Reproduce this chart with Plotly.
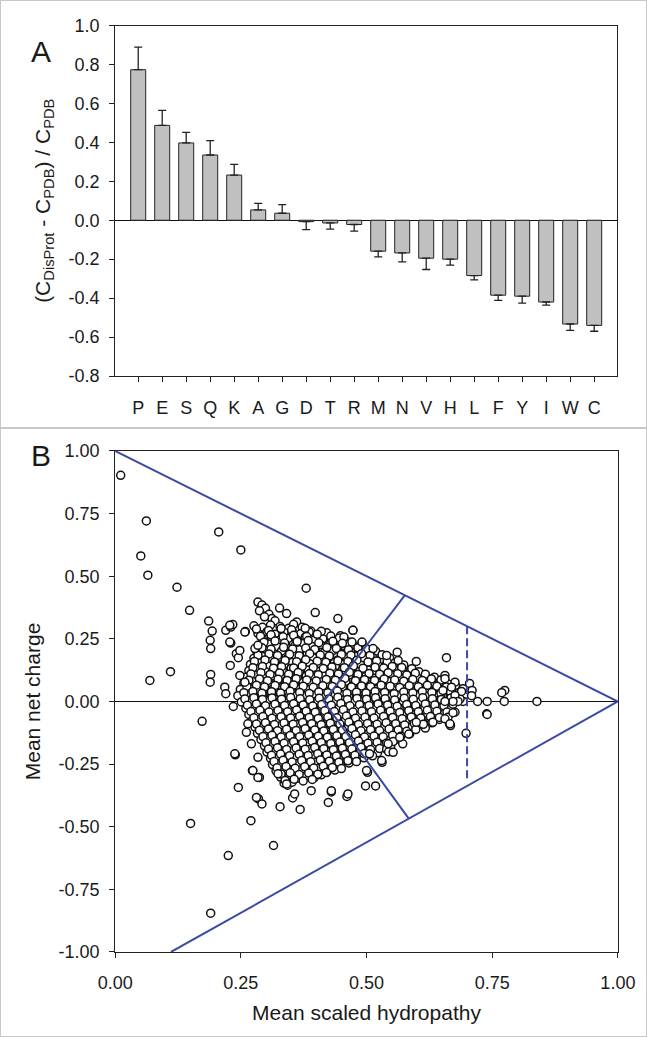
import plotly.graph_objects as go

FONT = "Liberation Sans, Arial, sans-serif"
INK = "#1a1a1a"
BLUE = "#3b4aa3"

# panel A: relative composition difference per residue
residues = ["P", "E", "S", "Q", "K", "A", "G", "D", "T", "R",
            "M", "N", "V", "H", "L", "F", "Y", "I", "W", "C"]
rel_diff = [0.773, 0.487, 0.397, 0.335, 0.232, 0.053, 0.036, -0.007, -0.014, -0.022,
            -0.159, -0.168, -0.195, -0.200, -0.284, -0.385, -0.390, -0.420, -0.533, -0.540]
rel_err = [0.116, 0.077, 0.054, 0.074, 0.055, 0.034, 0.044, 0.041, 0.032, 0.034,
           0.029, 0.046, 0.058, 0.031, 0.022, 0.027, 0.036, 0.016, 0.033, 0.030]
a_ticks = [-0.8, -0.6, -0.4, -0.2, 0.0, 0.2, 0.4, 0.6, 0.8, 1.0]

# panel B: charge-hydropathy points (dense core read row by row)
core_hydropathy = [
    0.284, 0.292, 0.299, 0.287, 0.306, 0.327, 0.341, 0.361, 0.312, 0.297, 0.318,
    0.276, 0.293, 0.309, 0.328, 0.345, 0.372, 0.389, 0.355,
    0.284, 0.302, 0.318, 0.336, 0.352, 0.369, 0.386, 0.404, 0.421, 0.448, 0.473,
    0.293, 0.311, 0.326, 0.344, 0.361, 0.378, 0.396, 0.413, 0.43, 0.446, 0.462,
    0.289, 0.305, 0.322, 0.339, 0.357, 0.374, 0.391, 0.408, 0.425, 0.443, 0.459, 0.476, 0.491,
    0.282, 0.299, 0.314, 0.331, 0.348, 0.366, 0.382, 0.399, 0.417, 0.434, 0.451, 0.468, 0.485, 0.502, 0.518,
    0.276, 0.293, 0.309, 0.325, 0.342, 0.359, 0.376, 0.393, 0.41, 0.427, 0.444, 0.461, 0.478, 0.495, 0.512, 0.529, 0.546,
    0.269, 0.286, 0.302, 0.319, 0.336, 0.353, 0.37, 0.387, 0.404, 0.421, 0.438, 0.455, 0.472, 0.489, 0.506, 0.523, 0.54, 0.557, 0.574,
    0.266, 0.283, 0.299, 0.316, 0.333, 0.35, 0.367, 0.384, 0.401, 0.418, 0.435, 0.452, 0.469, 0.486, 0.503, 0.52, 0.537, 0.554, 0.571, 0.588, 0.604,
    0.262, 0.279, 0.295, 0.312, 0.329, 0.346, 0.363, 0.38, 0.397, 0.414, 0.431, 0.448, 0.465, 0.482, 0.499, 0.516, 0.533, 0.55, 0.567, 0.584, 0.601, 0.618, 0.635,
    0.256, 0.273, 0.289, 0.306, 0.323, 0.34, 0.357, 0.374, 0.391, 0.408, 0.425, 0.442, 0.459, 0.476, 0.493, 0.51, 0.527, 0.544, 0.561, 0.578, 0.595, 0.612, 0.629, 0.646, 0.662,
    0.249, 0.266, 0.282, 0.299, 0.316, 0.333, 0.35, 0.367, 0.384, 0.401, 0.418, 0.435, 0.452, 0.469, 0.486, 0.503, 0.52, 0.537, 0.554, 0.571, 0.588, 0.605, 0.622, 0.639, 0.656, 0.673, 0.688,
    0.244, 0.261, 0.277, 0.294, 0.311, 0.328, 0.345, 0.362, 0.379, 0.396, 0.413, 0.43, 0.447, 0.464, 0.481, 0.498, 0.515, 0.532, 0.549, 0.566, 0.583, 0.6, 0.617, 0.634, 0.651, 0.668, 0.685, 0.698,
    0.251, 0.268, 0.284, 0.301, 0.318, 0.335, 0.352, 0.369, 0.386, 0.403, 0.42, 0.437, 0.454, 0.471, 0.488, 0.505, 0.522, 0.539, 0.556, 0.573, 0.59, 0.607, 0.624, 0.641, 0.658, 0.675, 0.692,
    0.26, 0.277, 0.293, 0.31, 0.327, 0.344, 0.361, 0.378, 0.395, 0.412, 0.429, 0.446, 0.463, 0.48, 0.497, 0.514, 0.531, 0.548, 0.565, 0.582, 0.599, 0.616, 0.633, 0.65, 0.667,
    0.266, 0.283, 0.299, 0.316, 0.333, 0.35, 0.367, 0.384, 0.401, 0.418, 0.435, 0.452, 0.469, 0.486, 0.503, 0.52, 0.537, 0.554, 0.571, 0.588, 0.605, 0.622, 0.639, 0.655,
    0.272, 0.289, 0.305, 0.322, 0.339, 0.356, 0.373, 0.39, 0.407, 0.424, 0.441, 0.458, 0.475, 0.492, 0.509, 0.526, 0.543, 0.56, 0.577, 0.594, 0.611, 0.628, 0.645,
    0.278, 0.295, 0.311, 0.328, 0.345, 0.362, 0.379, 0.396, 0.413, 0.43, 0.447, 0.464, 0.481, 0.498, 0.515, 0.532, 0.549, 0.566, 0.583, 0.6, 0.617,
    0.283, 0.3, 0.316, 0.333, 0.35, 0.367, 0.384, 0.401, 0.418, 0.435, 0.452, 0.469, 0.486, 0.503, 0.52, 0.537, 0.554, 0.571, 0.586,
    0.29, 0.307, 0.323, 0.34, 0.357, 0.374, 0.391, 0.408, 0.425, 0.442, 0.459, 0.476, 0.493, 0.51, 0.527, 0.544, 0.559,
    0.297, 0.314, 0.33, 0.347, 0.364, 0.381, 0.398, 0.415, 0.432, 0.449, 0.466, 0.483, 0.5, 0.517, 0.534, 0.548,
    0.302, 0.319, 0.335, 0.352, 0.369, 0.386, 0.403, 0.42, 0.437, 0.454, 0.471, 0.488, 0.505, 0.522,
    0.309, 0.326, 0.342, 0.359, 0.376, 0.393, 0.41, 0.427, 0.444, 0.461, 0.478, 0.495,
    0.313, 0.33, 0.346, 0.363, 0.38, 0.397, 0.414, 0.431, 0.448, 0.465,
    0.32, 0.337, 0.353, 0.37, 0.387, 0.404, 0.421, 0.437,
    0.329, 0.346, 0.362, 0.379, 0.396, 0.41,
    0.336, 0.343, 0.352,
]
core_charge = [
    0.397, 0.385, 0.372, 0.362, 0.348, 0.373, 0.351, 0.317, 0.331, 0.338, 0.322,
    0.302, 0.296, 0.305, 0.299, 0.292, 0.296, 0.281, 0.308,
    0.272, 0.279, 0.268, 0.276, 0.282, 0.27, 0.277, 0.266, 0.274, 0.262, 0.284,
    0.248, 0.255, 0.243, 0.251, 0.246, 0.257, 0.244, 0.25, 0.241, 0.253, 0.238,
    0.222, 0.229, 0.218, 0.226, 0.221, 0.231, 0.219, 0.227, 0.223, 0.216, 0.228, 0.219, 0.233,
    0.198, 0.205, 0.194, 0.202, 0.196, 0.207, 0.193, 0.201, 0.197, 0.204, 0.192, 0.2, 0.206, 0.195, 0.201,
    0.173, 0.18, 0.169, 0.177, 0.171, 0.182, 0.168, 0.176, 0.172, 0.179, 0.167, 0.175, 0.181, 0.17, 0.176, 0.168, 0.174,
    0.148, 0.155, 0.144, 0.152, 0.146, 0.157, 0.143, 0.151, 0.147, 0.154, 0.142, 0.15, 0.156, 0.145, 0.151, 0.143, 0.149, 0.155, 0.146,
    0.123, 0.13, 0.119, 0.127, 0.121, 0.132, 0.118, 0.126, 0.122, 0.129, 0.117, 0.125, 0.131, 0.12, 0.126, 0.118, 0.124, 0.13, 0.121, 0.127, 0.119,
    0.098, 0.105, 0.094, 0.102, 0.096, 0.107, 0.093, 0.101, 0.097, 0.104, 0.092, 0.1, 0.106, 0.095, 0.101, 0.093, 0.099, 0.105, 0.096, 0.102, 0.094, 0.1, 0.097,
    0.073, 0.08, 0.069, 0.077, 0.071, 0.082, 0.068, 0.076, 0.072, 0.079, 0.067, 0.075, 0.081, 0.07, 0.076, 0.068, 0.074, 0.08, 0.071, 0.077, 0.069, 0.075, 0.072, 0.078, 0.07,
    0.048, 0.055, 0.044, 0.052, 0.046, 0.057, 0.043, 0.051, 0.047, 0.054, 0.042, 0.05, 0.056, 0.045, 0.051, 0.043, 0.049, 0.055, 0.046, 0.052, 0.044, 0.05, 0.047, 0.053, 0.045, 0.051, 0.048,
    0.023, 0.03, 0.019, 0.027, 0.021, 0.032, 0.018, 0.026, 0.022, 0.029, 0.017, 0.025, 0.031, 0.02, 0.026, 0.018, 0.024, 0.03, 0.021, 0.027, 0.019, 0.025, 0.022, 0.028, 0.02, 0.026, 0.023, 0.029,
    -0.002, 0.005, -0.006, 0.002, -0.004, 0.007, -0.007, 0.001, -0.003, 0.004, -0.008, 0.0, 0.006, -0.005, 0.001, -0.007, -0.001, 0.005, -0.004, 0.002, -0.006, 0.0, -0.003, 0.003, -0.005, 0.001, 0.0,
    -0.027, -0.02, -0.031, -0.023, -0.029, -0.018, -0.032, -0.024, -0.028, -0.021, -0.033, -0.025, -0.019, -0.03, -0.024, -0.032, -0.026, -0.02, -0.029, -0.023, -0.031, -0.025, -0.028, -0.022, -0.03,
    -0.052, -0.045, -0.056, -0.048, -0.054, -0.043, -0.057, -0.049, -0.053, -0.046, -0.058, -0.05, -0.044, -0.055, -0.049, -0.057, -0.051, -0.045, -0.054, -0.048, -0.056, -0.05, -0.053, -0.047,
    -0.077, -0.07, -0.081, -0.073, -0.079, -0.068, -0.082, -0.074, -0.078, -0.071, -0.083, -0.075, -0.069, -0.08, -0.074, -0.082, -0.076, -0.07, -0.079, -0.073, -0.081, -0.075, -0.072,
    -0.102, -0.095, -0.106, -0.098, -0.104, -0.093, -0.107, -0.099, -0.103, -0.096, -0.108, -0.1, -0.094, -0.105, -0.099, -0.107, -0.101, -0.095, -0.104, -0.098, -0.106,
    -0.127, -0.12, -0.131, -0.123, -0.129, -0.118, -0.132, -0.124, -0.128, -0.121, -0.133, -0.125, -0.119, -0.13, -0.124, -0.132, -0.126, -0.12, -0.129,
    -0.152, -0.145, -0.156, -0.148, -0.154, -0.143, -0.157, -0.149, -0.153, -0.146, -0.158, -0.15, -0.144, -0.155, -0.149, -0.157, -0.151,
    -0.177, -0.17, -0.181, -0.173, -0.179, -0.168, -0.182, -0.174, -0.178, -0.171, -0.183, -0.175, -0.169, -0.18, -0.174, -0.182,
    -0.202, -0.195, -0.206, -0.198, -0.204, -0.193, -0.207, -0.199, -0.203, -0.196, -0.208, -0.2, -0.194, -0.205,
    -0.227, -0.22, -0.231, -0.223, -0.229, -0.218, -0.232, -0.224, -0.228, -0.221, -0.233, -0.225,
    -0.252, -0.245, -0.256, -0.248, -0.254, -0.243, -0.257, -0.249, -0.253, -0.246,
    -0.277, -0.27, -0.281, -0.273, -0.279, -0.268, -0.282, -0.274,
    -0.302, -0.295, -0.306, -0.298, -0.304, -0.293,
    -0.326, -0.334, -0.322,
]

# second, interleaved pass over the core (overlapping circles)
fill_hydropathy = [
    0.281, 0.305, 0.33, 0.351, 0.378, 0.41,
    0.289, 0.31, 0.334, 0.355, 0.381, 0.402, 0.429, 0.455,
    0.296, 0.318, 0.337, 0.362, 0.384, 0.405, 0.433, 0.452, 0.471,
    0.292, 0.31, 0.335, 0.353, 0.379, 0.397, 0.421, 0.44, 0.464, 0.483, 0.5,
    0.284, 0.306, 0.323, 0.347, 0.366, 0.387, 0.408, 0.426, 0.45, 0.469, 0.49, 0.507, 0.531,
    0.277, 0.298, 0.317, 0.338, 0.361, 0.379, 0.402, 0.419, 0.443, 0.463, 0.481, 0.503, 0.52, 0.541, 0.563,
    0.274, 0.293, 0.315, 0.331, 0.355, 0.372, 0.394, 0.414, 0.431, 0.456, 0.474, 0.493, 0.517, 0.534, 0.551, 0.57, 0.59,
    0.27, 0.29, 0.308, 0.327, 0.345, 0.364, 0.386, 0.404, 0.427, 0.444, 0.466, 0.483, 0.505, 0.526, 0.543, 0.562, 0.58, 0.597, 0.617,
    0.266, 0.287, 0.303, 0.324, 0.342, 0.36, 0.381, 0.4, 0.42, 0.438, 0.457, 0.478, 0.496, 0.516, 0.535, 0.556, 0.574, 0.592, 0.611, 0.629, 0.648,
    0.262, 0.281, 0.297, 0.318, 0.337, 0.355, 0.374, 0.394, 0.413, 0.432, 0.45, 0.47, 0.49, 0.508, 0.529, 0.547, 0.566, 0.585, 0.603, 0.621, 0.64, 0.659, 0.677,
    0.256, 0.274, 0.292, 0.311, 0.329, 0.348, 0.367, 0.386, 0.405, 0.423, 0.442, 0.461, 0.48, 0.499, 0.517, 0.536, 0.555, 0.574, 0.592, 0.611, 0.63, 0.648, 0.667, 0.684,
    0.258, 0.276, 0.293, 0.312, 0.331, 0.349, 0.368, 0.387, 0.406, 0.425, 0.443, 0.462, 0.481, 0.5, 0.518, 0.537, 0.556, 0.575, 0.593, 0.612, 0.631, 0.649, 0.668, 0.686,
    0.263, 0.281, 0.299, 0.318, 0.337, 0.355, 0.374, 0.393, 0.411, 0.43, 0.449, 0.467, 0.486, 0.505, 0.523, 0.542, 0.561, 0.58, 0.598, 0.617, 0.636, 0.654, 0.672,
    0.27, 0.288, 0.306, 0.324, 0.343, 0.361, 0.38, 0.398, 0.417, 0.436, 0.454, 0.473, 0.491, 0.51, 0.528, 0.547, 0.566, 0.584, 0.603, 0.621, 0.64, 0.66,
    0.276, 0.294, 0.312, 0.33, 0.349, 0.367, 0.386, 0.404, 0.423, 0.441, 0.46, 0.478, 0.497, 0.515, 0.534, 0.552, 0.571, 0.589, 0.608, 0.627, 0.645,
    0.281, 0.299, 0.317, 0.336, 0.354, 0.373, 0.391, 0.41, 0.428, 0.447, 0.465, 0.484, 0.502, 0.521, 0.539, 0.558, 0.576, 0.595, 0.613, 0.63,
    0.287, 0.305, 0.323, 0.341, 0.36, 0.378, 0.397, 0.415, 0.434, 0.452, 0.471, 0.489, 0.508, 0.526, 0.545, 0.563, 0.58, 0.598,
    0.294, 0.312, 0.33, 0.348, 0.367, 0.385, 0.404, 0.422, 0.441, 0.459, 0.478, 0.496, 0.515, 0.533, 0.552, 0.568,
    0.3, 0.318, 0.336, 0.355, 0.373, 0.392, 0.41, 0.429, 0.447, 0.466, 0.484, 0.503, 0.521, 0.54, 0.553,
    0.305, 0.323, 0.341, 0.36, 0.378, 0.397, 0.415, 0.434, 0.452, 0.471, 0.489, 0.508, 0.526, 0.54,
    0.311, 0.329, 0.347, 0.366, 0.384, 0.403, 0.421, 0.44, 0.458, 0.477, 0.495, 0.512,
    0.316, 0.334, 0.352, 0.371, 0.389, 0.408, 0.426, 0.445, 0.463, 0.48,
    0.322, 0.34, 0.358, 0.377, 0.395, 0.414, 0.432, 0.45,
    0.33, 0.348, 0.366, 0.385, 0.403, 0.42,
    0.338, 0.356, 0.374, 0.392,
]
fill_charge = [
    0.289, 0.283, 0.291, 0.286, 0.292, 0.28,
    0.26, 0.266, 0.258, 0.264, 0.259, 0.268, 0.261, 0.257,
    0.236, 0.241, 0.233, 0.239, 0.243, 0.234, 0.24, 0.232, 0.237,
    0.214, 0.209, 0.216, 0.21, 0.213, 0.208, 0.215, 0.211, 0.207, 0.214, 0.21,
    0.185, 0.19, 0.184, 0.189, 0.183, 0.191, 0.186, 0.182, 0.188, 0.185, 0.191, 0.184, 0.187,
    0.16, 0.166, 0.158, 0.164, 0.159, 0.167, 0.161, 0.157, 0.163, 0.16, 0.165, 0.158, 0.162, 0.159, 0.164,
    0.135, 0.14, 0.133, 0.139, 0.134, 0.141, 0.136, 0.132, 0.138, 0.135, 0.142, 0.133, 0.137, 0.134, 0.14, 0.136, 0.131,
    0.11, 0.115, 0.108, 0.114, 0.109, 0.116, 0.111, 0.107, 0.113, 0.11, 0.117, 0.108, 0.112, 0.109, 0.115, 0.111, 0.106, 0.113, 0.109,
    0.085, 0.09, 0.083, 0.089, 0.084, 0.091, 0.086, 0.082, 0.088, 0.085, 0.092, 0.083, 0.087, 0.084, 0.09, 0.086, 0.081, 0.088, 0.084, 0.09, 0.086,
    0.06, 0.065, 0.058, 0.064, 0.059, 0.066, 0.061, 0.057, 0.063, 0.06, 0.067, 0.058, 0.062, 0.059, 0.065, 0.061, 0.056, 0.063, 0.059, 0.065, 0.061, 0.058, 0.064,
    0.035, 0.04, 0.033, 0.039, 0.034, 0.041, 0.036, 0.032, 0.038, 0.035, 0.042, 0.033, 0.037, 0.034, 0.04, 0.036, 0.031, 0.038, 0.034, 0.04, 0.036, 0.033, 0.039, 0.035,
    0.01, 0.015, 0.008, 0.014, 0.009, 0.016, 0.011, 0.007, 0.013, 0.01, 0.017, 0.008, 0.012, 0.009, 0.015, 0.011, 0.006, 0.013, 0.009, 0.015, 0.011, 0.008, 0.014, 0.01,
    -0.015, -0.01, -0.017, -0.011, -0.016, -0.009, -0.014, -0.018, -0.012, -0.015, -0.008, -0.017, -0.013, -0.016, -0.01, -0.014, -0.019, -0.012, -0.016, -0.01, -0.014, -0.017, -0.011,
    -0.04, -0.035, -0.042, -0.036, -0.041, -0.034, -0.039, -0.043, -0.037, -0.04, -0.033, -0.042, -0.038, -0.041, -0.035, -0.039, -0.044, -0.037, -0.041, -0.035, -0.039, -0.042,
    -0.065, -0.06, -0.067, -0.061, -0.066, -0.059, -0.064, -0.068, -0.062, -0.065, -0.058, -0.067, -0.063, -0.066, -0.06, -0.064, -0.069, -0.062, -0.066, -0.06, -0.064,
    -0.09, -0.085, -0.092, -0.086, -0.091, -0.084, -0.089, -0.093, -0.087, -0.09, -0.083, -0.092, -0.088, -0.091, -0.085, -0.089, -0.094, -0.087, -0.091, -0.085,
    -0.115, -0.11, -0.117, -0.111, -0.116, -0.109, -0.114, -0.118, -0.112, -0.115, -0.108, -0.117, -0.113, -0.116, -0.11, -0.114, -0.119, -0.112,
    -0.14, -0.135, -0.142, -0.136, -0.141, -0.134, -0.139, -0.143, -0.137, -0.14, -0.133, -0.142, -0.138, -0.141, -0.135, -0.139,
    -0.165, -0.16, -0.167, -0.161, -0.166, -0.159, -0.164, -0.168, -0.162, -0.165, -0.158, -0.167, -0.163, -0.166, -0.16,
    -0.19, -0.185, -0.192, -0.186, -0.191, -0.184, -0.189, -0.193, -0.187, -0.19, -0.183, -0.192, -0.188, -0.191,
    -0.215, -0.21, -0.217, -0.211, -0.216, -0.209, -0.214, -0.218, -0.212, -0.215, -0.208, -0.217,
    -0.24, -0.235, -0.242, -0.236, -0.241, -0.234, -0.239, -0.243, -0.237, -0.24,
    -0.265, -0.26, -0.267, -0.261, -0.266, -0.259, -0.264, -0.268,
    -0.29, -0.285, -0.292, -0.286, -0.291, -0.284,
    -0.315, -0.31, -0.317, -0.311,
]

# sparse points around the core
outer_hydropathy = [
    0.011, 0.062, 0.051, 0.065, 0.123, 0.148, 0.206, 0.250, 0.380, 0.398, 0.443, 0.069, 0.110,
    0.186, 0.193, 0.189, 0.190, 0.190, 0.189, 0.218, 0.220, 0.220, 0.230, 0.234, 0.259, 0.230,
    0.241, 0.245, 0.229, 0.248, 0.258, 0.228, 0.258, 0.228, 0.248, 0.278, 0.284,
    0.473, 0.491, 0.513, 0.540, 0.561, 0.599, 0.659, 0.656, 0.676, 0.692, 0.705, 0.710, 0.721,
    0.740, 0.774, 0.839, 0.775, 0.769, 0.739, 0.698, 0.709, 0.689, 0.656, 0.669, 0.652, 0.676,
    0.682, 0.672, 0.656, 0.676, 0.662, 0.665, 0.656, 0.667, 0.672, 0.740,
    0.173, 0.235, 0.239, 0.245, 0.273, 0.287, 0.285, 0.292, 0.270, 0.150, 0.225, 0.315, 0.190,
    0.328, 0.353, 0.368, 0.424, 0.430, 0.461, 0.498, 0.518, 0.502, 0.531, 0.544, 0.572, 0.584,
    0.264, 0.261, 0.271, 0.238, 0.284, 0.274, 0.284, 0.281, 0.324, 0.341, 0.357, 0.390,
    0.430, 0.553, 0.543, 0.566, 0.599, 0.632, 0.666, 0.530, 0.506, 0.500, 0.463,
]
outer_charge = [
    0.903, 0.721, 0.581, 0.504, 0.456, 0.364, 0.677, 0.605, 0.452, 0.355, 0.331, 0.084, 0.119,
    0.321, 0.281, 0.244, 0.211, 0.108, 0.077, 0.057, 0.031, 0.284, 0.297, 0.307, 0.279, 0.233,
    0.191, 0.175, 0.144, 0.104, 0.077, 0.304, 0.277, 0.237, 0.204, 0.211, 0.224,
    0.284, 0.237, 0.211, 0.184, 0.197, 0.160, 0.175, 0.104, 0.077, 0.051, 0.072, 0.044, 0.0,
    0.0, 0.0, 0.0, 0.044, 0.035, -0.049, -0.127, 0.023, 0.040, 0.091, 0.057, 0.044, 0.024,
    0.0, 0.0, 0.0, -0.043, -0.063, -0.089, -0.069, -0.096, -0.045, -0.052,
    -0.079, -0.020, -0.213, -0.343, -0.276, -0.303, -0.389, -0.409, -0.476, -0.487, -0.615, -0.575, -0.845,
    -0.420, -0.385, -0.431, -0.403, -0.361, -0.379, -0.337, -0.337, -0.283, -0.243, -0.201, -0.169, -0.130,
    -0.089, -0.123, -0.169, -0.209, -0.223, -0.276, -0.303, -0.383, -0.289, -0.329, -0.369, -0.356,
    -0.356, -0.203, -0.169, -0.143, -0.083, -0.083, -0.089, -0.236, -0.209, -0.276, -0.369,
]
b_ticks = [-1.0, -0.75, -0.5, -0.25, 0.0, 0.25, 0.5, 0.75, 1.0]

# boundary lines in panel B
upper_x = [0.0, 1.0]
upper_y = [1.0, 0.0]
lower_x = [0.111, 1.0]
lower_y = [-1.0, 0.0]
split_x = [0.576, 0.415, 0.584]
split_y = [0.424, 0.0, -0.468]
dash_x = [0.70, 0.70]
dash_y = [0.30, -0.32]

err_up = [e if v > 0 else 0 for v, e in zip(rel_diff, rel_err)]
err_down = [e if v < 0 else 0 for v, e in zip(rel_diff, rel_err)]

fig = go.Figure()

fig.add_trace(go.Bar(
    x=residues, y=rel_diff, xaxis="x", yaxis="y",
    marker=dict(color="#c0c0c0", line=dict(color="#222222", width=1)),
    error_y=dict(type="data", symmetric=False, array=err_up, arrayminus=err_down,
                 color="#222222", thickness=1.3, width=4),
    showlegend=False,
))

fig.add_trace(go.Scatter(
    x=core_hydropathy + fill_hydropathy + outer_hydropathy,
    y=core_charge + fill_charge + outer_charge,
    xaxis="x2", yaxis="y2", mode="markers",
    marker=dict(symbol="circle", size=8, color="white", line=dict(color="#111111", width=1.5)),
    showlegend=False,
))

for xs, ys, dash in [(upper_x, upper_y, "solid"), (lower_x, lower_y, "solid"),
                     (split_x, split_y, "solid"), (dash_x, dash_y, "8px,4px")]:
    fig.add_trace(go.Scatter(
        x=xs, y=ys, xaxis="x2", yaxis="y2", mode="lines",
        line=dict(color=BLUE, width=2, dash=dash), showlegend=False,
    ))

tick_font = dict(family=FONT, size=18, color=INK)
title_font = dict(family=FONT, size=21, color=INK)
axis_common = dict(showline=True, linecolor="#222222", linewidth=1, mirror=True,
                   ticks="outside", ticklen=5, tickcolor="#222222", showgrid=False,
                   tickfont=tick_font, automargin=False)

fig.update_layout(
    width=647, height=1037,
    margin=dict(l=0, r=0, t=0, b=0),
    paper_bgcolor="white", plot_bgcolor="white",
    font=dict(family=FONT, color=INK),
    bargap=0.375,
    xaxis=dict(domain=[0.178, 0.954], anchor="y", range=[-0.96, 19.96],
               zeroline=False, ticklabelstandoff=10, **axis_common),
    yaxis=dict(domain=[0.6374, 0.9754], anchor="x", range=[-0.8, 1.0],
               tickvals=a_ticks, ticktext=[f"{v:.1f}" for v in a_ticks],
               zeroline=True, zerolinecolor="#111111", zerolinewidth=1,
               ticklabelstandoff=6,
               title=dict(text="(C<sub>DisProt</sub> - C<sub>PDB</sub>) / C<sub>PDB</sub>",
                          font=title_font, standoff=12), **axis_common),
    xaxis2=dict(domain=[0.178, 0.955], anchor="y2", range=[0, 1], dtick=0.25,
                tickformat=".2f", zeroline=False, ticklabelstandoff=9,
                title=dict(text="Mean scaled hydropathy", font=title_font, standoff=13),
                **axis_common),
    yaxis2=dict(domain=[0.082, 0.5651], anchor="x2", range=[-1, 1],
                tickvals=b_ticks, ticktext=[f"{v:.2f}" for v in b_ticks],
                zeroline=True, zerolinecolor="#111111", zerolinewidth=1,
                ticklabelstandoff=6,
                title=dict(text="Mean net charge", font=title_font, standoff=12),
                **axis_common),
    shapes=[
        dict(type="rect", xref="paper", yref="paper", x0=0, y0=0, x1=1, y1=1,
             line=dict(color="#c8c8c8", width=2)),
        dict(type="line", xref="paper", yref="paper", x0=0, x1=1,
             y0=1 - 428 / 1037, y1=1 - 428 / 1037, line=dict(color="#c8c8c8", width=2)),
    ],
    annotations=[
        dict(text="A", xref="paper", yref="paper", x=29 / 647, y=1 - 33 / 1037,
             showarrow=False, font=dict(family=FONT, size=30, color=INK)),
        dict(text="B", xref="paper", yref="paper", x=29 / 647, y=1 - 456 / 1037,
             showarrow=False, font=dict(family=FONT, size=30, color=INK)),
    ],
)

fig.write_html("out.html", config={"displayModeBar": False},
               post_script="document.body.style.margin='0';")
